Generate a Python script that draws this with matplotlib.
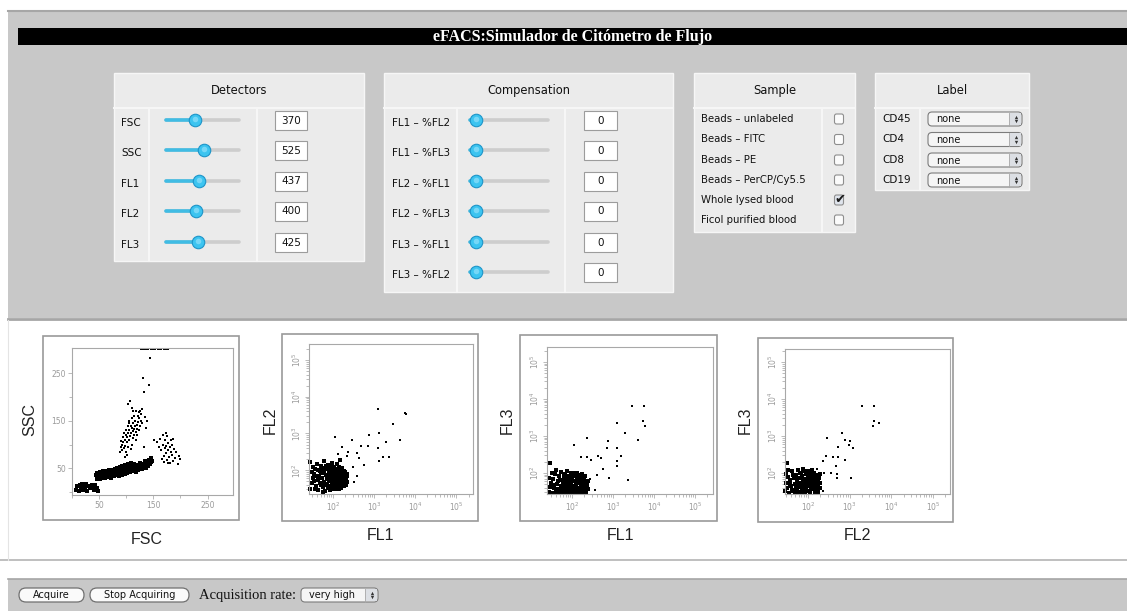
import numpy as np
import matplotlib.pyplot as plt
from matplotlib.patches import Rectangle, FancyBboxPatch
from matplotlib.ticker import LogLocator, NullFormatter

W, H = 1127, 611

# ---------------- UI content
title = 'eFACS:Simulador de Citómetro de Flujo'
detector_names = ['FSC', 'SSC', 'FL1', 'FL2', 'FL3']
detector_values = [370, 525, 437, 400, 425]
comp_names = ['FL1 – %FL2', 'FL1 – %FL3', 'FL2 – %FL1', 'FL2 – %FL3', 'FL3 – %FL1', 'FL3 – %FL2']
comp_values = [0, 0, 0, 0, 0, 0]
sample_names = ['Beads – unlabeled', 'Beads – FITC', 'Beads – PE', 'Beads – PerCP/Cy5.5',
                'Whole lysed blood', 'Ficol purified blood']
sample_checked = [False, False, False, False, True, False]
label_names = ['CD45', 'CD4', 'CD8', 'CD19']
label_choices = ['none', 'none', 'none', 'none']
button_names = ['Acquire', 'Stop Acquiring']
rate_choice = 'very high'

# ---------------- scatter data
# FSC / SSC (linear)
p1_top = [(128, 300), (130, 300), (133, 300), (135, 300), (137, 300), (140, 300), (145, 300), (150, 300),
          (153, 300), (158, 300), (162, 300), (165, 300), (170, 300), (172, 300), (176, 300), (178, 300)]
p1_outliers = [(144, 281), (131, 240), (142, 225), (133, 210), (107, 192), (104, 185), (130, 175), (126, 170),
               (112, 171), (110, 176), (123, 168), (135, 158), (136, 135), (138, 150), (132, 95), (148, 62)]
p1_gran = [(88, 85), (90, 95), (92, 100), (93, 88), (95, 105), (96, 92), (97, 110), (98, 98), (99, 120), (100, 85),
           (101, 115), (102, 105), (103, 125), (104, 95), (105, 130), (106, 110), (107, 118), (108, 140), (109, 125),
           (110, 100), (111, 135), (112, 128), (113, 145), (114, 120), (115, 132), (116, 138), (117, 150), (118, 126),
           (119, 142), (120, 133), (121, 160), (122, 148), (124, 155), (125, 138), (127, 165), (128, 150), (130, 145),
           (100, 130), (96, 125), (94, 115), (91, 108), (103, 140), (106, 150), (110, 155), (112, 113), (118, 110),
           (120, 120), (123, 130), (108, 90), (102, 78), (98, 73), (115, 160), (118, 170), (105, 145)]
p1_mono = [(157, 105), (160, 95), (162, 112), (165, 88), (167, 100), (168, 120), (170, 75), (171, 92), (172, 110),
           (173, 82), (174, 98), (175, 68), (176, 118), (177, 88), (178, 104), (179, 73), (180, 95), (181, 62),
           (182, 85), (183, 110), (184, 78), (185, 100), (186, 66), (188, 90), (190, 72), (192, 84), (195, 60),
           (198, 76), (200, 70), (166, 70), (169, 64), (174, 125), (178, 62), (186, 112), (152, 110)]
p1_lymph = [(45, 35), (46, 28), (47, 40), (48, 32), (50, 38), (51, 27), (52, 43), (53, 34), (55, 30), (56, 40),
            (57, 36), (58, 45), (60, 33), (61, 29), (62, 41), (63, 37), (65, 44), (66, 32), (67, 39), (68, 47),
            (70, 35), (71, 42), (72, 30), (73, 46), (75, 38), (76, 44), (77, 33), (78, 40), (80, 48), (81, 36),
            (82, 42), (83, 50), (85, 38), (86, 45), (87, 33), (88, 52), (90, 40), (91, 47), (92, 36), (93, 55),
            (95, 42), (96, 50), (97, 38), (98, 58), (100, 45), (101, 52), (102, 40), (103, 60), (105, 48), (106, 55),
            (107, 43), (108, 62), (110, 50), (111, 57), (112, 45), (113, 53), (115, 60), (116, 48), (117, 55),
            (118, 42), (120, 52), (121, 58), (122, 46), (124, 55), (125, 62), (126, 50), (128, 57), (130, 48),
            (131, 60), (132, 53), (134, 65), (135, 58), (137, 50), (138, 62), (140, 55), (142, 68), (144, 60),
            (146, 72), (148, 65)]
p1_debris = [(8, 5), (10, 12), (12, 2), (14, 15), (16, 8), (18, 18), (20, 5), (22, 13), (24, 9), (26, 17), (28, 3),
             (30, 12), (33, 8), (36, 16), (38, 10), (40, 4), (42, 14), (46, 8), (48, 2)]

# FL1 / FL2 (log)
p2_cluster = [(28, 30), (30, 45), (32, 60), (34, 80), (36, 110), (38, 38), (40, 150), (42, 55), (44, 28), (46, 70),
              (48, 95), (50, 40), (52, 130), (54, 62), (56, 34), (58, 85), (60, 48), (62, 175), (64, 27), (66, 72),
              (68, 105), (70, 42), (72, 58), (74, 140), (76, 32), (78, 88), (80, 50), (82, 66), (84, 120), (86, 36),
              (88, 78), (90, 55), (92, 160), (94, 44), (96, 98), (98, 30), (100, 68), (103, 125), (106, 52), (109, 82),
              (112, 38), (115, 110), (118, 60), (121, 46), (124, 145), (127, 74), (130, 34), (133, 92), (136, 56),
              (139, 120), (142, 42), (145, 70), (148, 185), (151, 50), (155, 85), (159, 32), (163, 64), (167, 105),
              (171, 45), (175, 78), (180, 58), (185, 36), (190, 95), (195, 52), (200, 70), (206, 40), (212, 62),
              (218, 48), (225, 80), (30, 90), (33, 125), (35, 52), (37, 30), (39, 70), (43, 100), (47, 45), (51, 85),
              (55, 115), (57, 26), (61, 95), (65, 40), (69, 130), (73, 75), (77, 60), (81, 95), (85, 28), (89, 140),
              (93, 72), (97, 50), (101, 88), (105, 40), (110, 62), (116, 80), (122, 30), (128, 55), (134, 100),
              (140, 30), (146, 90), (152, 70), (160, 48), (170, 115), (178, 40), (188, 70), (198, 90), (210, 55),
              (220, 68), (27, 172)]
p2_outliers = [(1260, 4600), (5700, 3700), (6000, 3500), (2900, 1760), (114, 810), (286, 660), (767, 890),
               (1320, 1000), (4300, 660), (1950, 570), (730, 450), (1230, 405), (480, 450), (163, 430), (228, 315),
               (380, 296), (430, 220), (220, 250), (134, 273), (1620, 230), (2280, 230), (1290, 180), (570, 137),
               (312, 123), (380, 69), (325, 48)]

# FL1 / FL3 (log)
p3_cluster = [(27, 30), (29, 42), (31, 55), (33, 29), (35, 70), (37, 38), (39, 95), (41, 31), (43, 50), (45, 62),
              (47, 29), (49, 80), (51, 36), (53, 45), (55, 105), (57, 30), (59, 58), (61, 40), (63, 75), (65, 29),
              (67, 48), (69, 90), (71, 33), (73, 62), (75, 42), (77, 110), (79, 30), (81, 55), (83, 37), (85, 85),
              (87, 46), (89, 29), (91, 68), (93, 100), (95, 35), (97, 52), (99, 31), (102, 78), (105, 42), (108, 95),
              (111, 30), (114, 60), (117, 38), (120, 85), (123, 48), (126, 29), (129, 70), (132, 35), (135, 100),
              (138, 52), (141, 31), (144, 65), (147, 40), (150, 88), (155, 30), (160, 58), (165, 45), (170, 75),
              (175, 33), (180, 95), (186, 50), (192, 30), (198, 66), (204, 40), (212, 55), (220, 31), (230, 48),
              (240, 36), (250, 62), (28, 75), (32, 100), (36, 48), (40, 120), (44, 36), (52, 65), (58, 42), (64, 95),
              (72, 52), (80, 70), (88, 36), (96, 90), (104, 60), (112, 45), (118, 100), (128, 56), (140, 80),
              (152, 35), (168, 62), (185, 40), (205, 80), (225, 30), (29, 182)]
p3_outliers = [(2860, 6300), (5750, 6300), (5500, 2500), (6200, 1820), (1230, 2240), (1960, 1160), (4150, 770),
               (112, 565), (228, 890), (770, 720), (730, 475), (1270, 475), (163, 274), (228, 274), (285, 225),
               (425, 290), (500, 258), (1570, 285), (1270, 210), (1230, 157), (560, 128), (785, 72), (2290, 65),
               (400, 88), (365, 35), (277, 68)]

# FL2 / FL3 (log)
p4_cluster = [(28, 32), (30, 55), (32, 40), (34, 80), (36, 29), (38, 65), (40, 45), (42, 110), (44, 33), (46, 72),
              (48, 50), (50, 30), (52, 90), (54, 58), (56, 38), (58, 120), (60, 48), (62, 30), (64, 75), (66, 42),
              (68, 100), (70, 55), (72, 32), (74, 85), (76, 46), (78, 130), (80, 36), (82, 68), (84, 52), (86, 29),
              (88, 95), (90, 60), (92, 40), (94, 115), (96, 50), (98, 33), (100, 78), (103, 45), (106, 105),
              (109, 62), (112, 31), (115, 88), (118, 42), (121, 70), (124, 55), (127, 120), (130, 36), (134, 80),
              (138, 48), (142, 100), (146, 30), (150, 65), (155, 45), (160, 90), (166, 34), (172, 60), (178, 48),
              (185, 75), (192, 38), (200, 55), (29, 95), (33, 120), (37, 50), (41, 35), (45, 90), (53, 42), (57, 75),
              (63, 100), (67, 30), (75, 60), (83, 110), (91, 35), (99, 95), (108, 52), (117, 110), (126, 40),
              (136, 62), (148, 85), (162, 52), (176, 30), (190, 95), (31, 183)]
p4_outliers = [(2000, 6400), (3800, 6400), (3800, 2600), (3700, 1900), (4950, 2300), (650, 1230), (290, 900),
               (770, 780), (1020, 720), (980, 570), (1220, 480), (530, 495), (270, 288), (390, 275), (530, 275),
               (775, 225), (225, 215), (470, 155), (245, 102), (490, 94), (1070, 73), (490, 72), (162, 126),
               (350, 100), (232, 33)]

log_ticks = [1e2, 1e3, 1e4, 1e5]
log_labels = ['$10^2$', '$10^3$', '$10^4$', '$10^5$']
lin_ticks = [50, 150, 250]

# ---------------- colours
PAGE = '#c8c8c8'
PANEL = '#ebebeb'
LINE = '#f6f6f6'
TXT = '#111111'
UI_FONT = 'DejaVu Sans'

fig = plt.figure(figsize=(W / 100, H / 100), dpi=100)
ui = fig.add_axes([0, 0, 1, 1])
ui.set_xlim(0, W)
ui.set_ylim(H, 0)
ui.axis('off')


def rect(x0, y0, x1, y1, **kw):
    ui.add_patch(Rectangle((x0, y0), x1 - x0, y1 - y0, **kw))


def hline(x0, x1, y, **kw):
    ui.plot([x0, x1], [y, y], **kw)


def vline(x, y0, y1, **kw):
    ui.plot([x, x], [y0, y1], **kw)


# page background
rect(8, 11, W, 318, fc=PAGE, ec='none')
hline(8, W, 10.5, color='#a6a6a6', lw=1.5)
hline(8, W, 318.5, color='#a6a6a6', lw=2)
hline(0, W, 560, color='#b4b4b4', lw=1.2)
vline(8, 320, 560, color='#e4e4e4', lw=0.8)
rect(8, 579, W, H, fc=PAGE, ec='none')
hline(8, W, 579, color='#a6a6a6', lw=1.2)

# title bar
rect(18, 28, W, 45, fc='black', ec='none')
ui.text(573, 36.8, title, color='white', ha='center', va='center',
        fontsize=11.5, fontweight='bold', family='Liberation Serif')


def panel(x0, y0, x1, y1, cols, name):
    rect(x0, y0, x1, y1, fc=PANEL, ec=LINE, lw=1)
    hline(x0, x1, 108, color=LINE, lw=1.5)
    for c in cols:
        vline(c, 108, y1, color=LINE, lw=1.5)
    ui.text((x0 + x1) / 2, 90.5, name, ha='center', va='center', fontsize=8.3, color=TXT, family=UI_FONT)


def slider(x0, x1, y, frac):
    kx = x0 + 6 + frac * (x1 - x0 - 12)
    ui.plot([x0, x1], [y, y], color='#cdcdcd', lw=2.6, solid_capstyle='round')
    ui.plot([x0, kx], [y, y], color='#40bce4', lw=2.6, solid_capstyle='round')
    ui.plot(kx, y, 'o', ms=9, mfc='#3cc4f0', mec='#1d94c8', mew=0.8)
    ui.plot(kx, y - 1.5, 'o', ms=4, mfc='#8fe0fa', mec='none', alpha=0.7)


def value_box(x0, x1, y, val):
    rect(x0, y - 9, x1, y + 10, fc='white', ec='#9c9c9c', lw=0.8)
    ui.text((x0 + x1) / 2, y + 0.5, str(val), ha='center', va='center', fontsize=7.5, color=TXT, family=UI_FONT)


# Detectors
panel(114, 73, 364, 261, [149, 257], 'Detectors')
det_rows = [120, 150, 181, 211, 242]
for name, val, y in zip(detector_names, detector_values, det_rows):
    ui.text(121, y + 3, name, ha='left', va='center', fontsize=7.5, color=TXT, family=UI_FONT)
    slider(166, 239, y, val / 1000)
    value_box(275, 307, y, val)

# Compensation
panel(384, 73, 673, 292, [457, 565], 'Compensation')
comp_rows = [120, 150, 181, 211, 242, 272]
for name, val, y in zip(comp_names, comp_values, comp_rows):
    ui.text(392, y + 3, name, ha='left', va='center', fontsize=7.5, color=TXT, family=UI_FONT)
    slider(470, 548, y, val / 100)
    value_box(584, 617, y, val)

# Sample
panel(694, 73, 855, 232, [822], 'Sample')
sample_rows = [119, 139.5, 160, 180, 200, 220]
for name, chk, y in zip(sample_names, sample_checked, sample_rows):
    ui.text(701, y, name, ha='left', va='center', fontsize=7.3, color=TXT, family=UI_FONT)
    ui.add_patch(FancyBboxPatch((834.5, y - 5), 9, 10, boxstyle='round,pad=0,rounding_size=2',
                                fc='#dfe4ec' if chk else '#fbfbfb', ec='#8e8e8e', lw=0.8))
    if chk:
        ui.text(840, y - 1, '✔', ha='center', va='center', fontsize=9.5, color='#1a1a1a',
                family='DejaVu Sans')

# Label
panel(875, 73, 1029, 190, [920], 'Label')
label_rows = [119, 139.5, 160, 180]


def dropdown(x0, x1, y, text, fs=7):
    ui.add_patch(FancyBboxPatch((x0, y - 7), x1 - x0, 14, boxstyle='round,pad=0,rounding_size=4',
                                fc='#f5f5f5', ec='#7c7c7c', lw=0.8))
    ui.add_patch(Rectangle((x1 - 13, y - 6.3), 12.3, 12.6, fc='#dcdfe4', ec='none'))
    vline(x1 - 13, y - 6.5, y + 6.5, color='#a8a8a8', lw=0.6)
    ui.plot(x1 - 6.5, y - 2.3, '^', ms=2.4, color='#333333', mew=0)
    ui.plot(x1 - 6.5, y + 2.3, 'v', ms=2.4, color='#333333', mew=0)
    ui.text(x0 + 8, y + 0.5, text, ha='left', va='center', fontsize=fs, color=TXT, family=UI_FONT)


for name, choice, y in zip(label_names, label_choices, label_rows):
    ui.text(882, y, name, ha='left', va='center', fontsize=7.5, color=TXT, family=UI_FONT)
    dropdown(928, 1022, y, choice)

# bottom bar
for (x0, x1), name in zip([(19, 84), (90, 189)], button_names):
    ui.add_patch(FancyBboxPatch((x0, 588), x1 - x0, 14, boxstyle='round,pad=0,rounding_size=7',
                                fc='#fafafa', ec='#707070', lw=0.9))
    ui.text((x0 + x1) / 2, 595.5, name, ha='center', va='center', fontsize=7, color=TXT, family=UI_FONT)
ui.text(199, 595, 'Acquisition rate:', ha='left', va='center', fontsize=10.5, color=TXT,
        family='Liberation Serif')
dropdown(301, 378, 595, rate_choice)


# ---------------- dot plots
def plot_axes(outer, inner):
    ox0, oy0, ox1, oy1 = outer
    rect(ox0, oy0, ox1, oy1, fc='white', ec='#9a9a9a', lw=1.2)
    x0, y0, x1, y1 = inner
    ax = fig.add_axes([x0 / W, 1 - y1 / H, (x1 - x0) / W, (y1 - y0) / H])
    for s in ax.spines.values():
        s.set_color('#a8a8a8')
        s.set_linewidth(0.8)
    ax.tick_params(which='both', colors='#b0b0b0', labelcolor='#9a9a9a', labelsize=5.5,
                   width=0.6, pad=1.5)
    ax.tick_params(which='major', length=3)
    ax.tick_params(which='minor', length=2)
    return ax


def dots(ax, groups, ms):
    pts = np.array([p for g in groups for p in g], dtype=float)
    ax.plot(pts[:, 0], pts[:, 1], 's', ms=ms, color='black', mew=0, clip_on=False)


def log_axes(ax, xlim, ylim):
    ax.set_xscale('log')
    ax.set_yscale('log')
    ax.set_xlim(10 ** xlim[0], 10 ** xlim[1])
    ax.set_ylim(10 ** ylim[0], 10 ** ylim[1])
    ax.set_xticks(log_ticks)
    ax.set_xticklabels(log_labels)
    ax.set_yticks(log_ticks)
    ax.set_yticklabels(log_labels, rotation=90, va='center')
    for a in (ax.xaxis, ax.yaxis):
        a.set_minor_locator(LogLocator(base=10, subs=np.arange(2, 10), numticks=20))
        a.set_minor_formatter(NullFormatter())


lab = dict(fontsize=11.5, color='#222222', family='Liberation Sans')

ax1 = plot_axes((43, 336, 239, 520), (72, 348, 233, 495))
dots(ax1, [p1_top, p1_outliers, p1_gran, p1_mono], 1.8)
dots(ax1, [p1_lymph, p1_debris], 2.3)
ax1.set_xlim(4, 297)
ax1.set_ylim(-6, 303)
ax1.set_xticks(lin_ticks)
ax1.set_yticks(lin_ticks)
ax1.set_xticks([0, 100, 200], minor=True)
ax1.set_yticks([0, 100, 200], minor=True)
ui.text(147, 540, 'FSC', ha='center', va='center', **lab)
ui.text(30, 419, 'SSC', ha='center', va='center', rotation=90, **lab)

ax2 = plot_axes((282, 334, 478, 521), (309, 344, 473, 494))
dots(ax2, [p2_cluster], 2.9)
dots(ax2, [p2_outliers], 1.8)
log_axes(ax2, (1.415, 5.41), (1.35, 5.44))
ui.text(380, 535, 'FL1', ha='center', va='center', **lab)
ui.text(270, 420, 'FL2', ha='center', va='center', rotation=90, **lab)

ax3 = plot_axes((520, 335, 717, 521), (547, 347, 713, 494))
dots(ax3, [p3_cluster], 2.9)
dots(ax3, [p3_outliers], 1.8)
log_axes(ax3, (1.39, 5.44), (1.43, 5.4))
ui.text(620, 535, 'FL1', ha='center', va='center', **lab)
ui.text(507, 420, 'FL3', ha='center', va='center', rotation=90, **lab)

ax4 = plot_axes((758, 338, 953, 522), (785, 349, 950, 494))
dots(ax4, [p4_cluster], 2.9)
dots(ax4, [p4_outliers], 1.8)
log_axes(ax4, (1.45, 5.41), (1.43, 5.35))
ui.text(857, 535, 'FL2', ha='center', va='center', **lab)
ui.text(745, 420, 'FL3', ha='center', va='center', rotation=90, **lab)

fig.savefig('out.png', dpi=100)
